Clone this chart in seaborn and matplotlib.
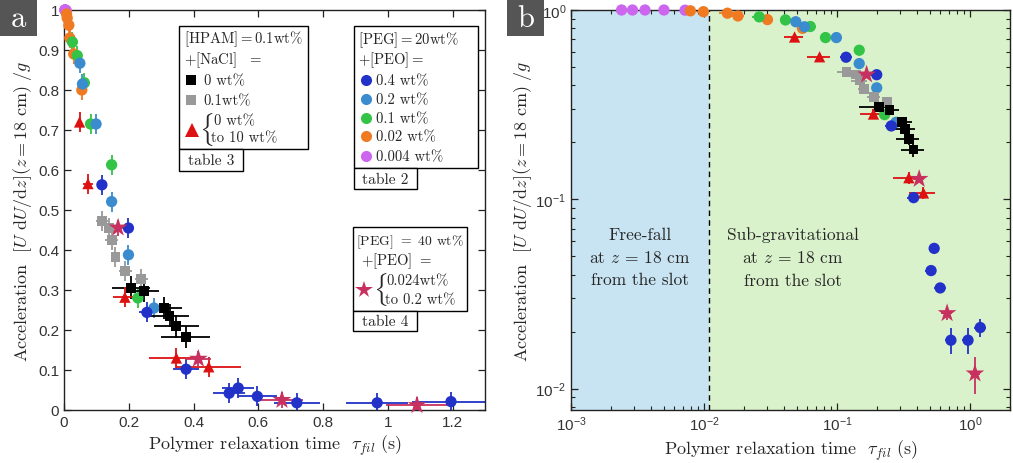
import numpy as np
import pandas as pd
import matplotlib
matplotlib.use("Agg")
import matplotlib.pyplot as plt
import seaborn as sns
from matplotlib.patches import Rectangle
from matplotlib.ticker import FixedLocator, FormatStrFormatter

# ---------------- data ----------------
series_names = ["p0004", "p002", "p01", "p02", "hp01", "hp0", "hpnacl", "p04", "peg40"]

purple_x = [0.0024, 0.0029, 0.0036, 0.0050, 0.0072]
purple_y = [1.0, 1.0, 1.0, 1.0, 0.998]
purple_xe = [0.0002, 0.0002, 0.0003, 0.0004, 0.0005]

orange_x = [0.0079, 0.0099, 0.015, 0.018, 0.030, 0.055]
orange_y = [0.99, 0.98, 0.962, 0.93, 0.89, 0.80]
orange_xe = [0.001, 0.001, 0.002, 0.002, 0.003, 0.005]

green_x = [0.026, 0.041, 0.063, 0.082, 0.147, 0.228]
green_y = [0.92, 0.886, 0.818, 0.715, 0.613, 0.28]
green_xe = [0.003, 0.004, 0.006, 0.008, 0.012, 0.02]

lblue_x = [0.049, 0.057, 0.099, 0.147, 0.199, 0.278]
lblue_y = [0.867, 0.815, 0.715, 0.521, 0.388, 0.255]
lblue_xe = [0.004, 0.005, 0.008, 0.012, 0.015, 0.025]

dblue_x = [0.117, 0.199, 0.256, 0.377, 0.51, 0.538, 0.597, 0.719, 0.967, 1.195]
dblue_y = [0.563, 0.455, 0.244, 0.102, 0.042, 0.055, 0.034, 0.018, 0.018, 0.021]
dblue_xe = [0.012, 0.015, 0.025, 0.04, 0.05, 0.05, 0.06, 0.072, 0.095, 0.12]

black_x = [0.207, 0.248, 0.309, 0.326, 0.347, 0.376]
black_y = [0.306, 0.297, 0.255, 0.236, 0.209, 0.183]
black_xe = [0.06, 0.045, 0.055, 0.06, 0.07, 0.075]

gray_x = [0.118, 0.139, 0.148, 0.159, 0.189, 0.238]
gray_y = [0.472, 0.456, 0.424, 0.383, 0.348, 0.327]
gray_xe = [0.018, 0.015, 0.02, 0.015, 0.02, 0.02]

red_x = [0.048, 0.074, 0.188, 0.347, 0.447]
red_y = [0.72, 0.566, 0.282, 0.130, 0.108]
red_xe = [0.008, 0.015, 0.038, 0.085, 0.10]

star_x = [0.167, 0.415, 0.673, 1.09]
star_y = [0.456, 0.128, 0.025, 0.012]
star_xe = [0.02, 0.04, 0.064, 0.095]

# vertical error bars (panel a, linear) and (panel b, log)
yerr_a = {"p0004": 0.008, "p002": 0.025, "p01": 0.025, "p02": 0.025, "hp01": 0.025,
          "hp0": 0.028, "hpnacl": 0.025, "p04": 0.025, "peg40": 0.02}
purple_yeb = [0.005, 0.005, 0.005, 0.005, 0.005]
orange_yeb = [0.01, 0.01, 0.01, 0.01, 0.01, 0.01]
green_yeb = [0.01, 0.01, 0.01, 0.01, 0.01, 0.01]
lblue_yeb = [0.01, 0.01, 0.01, 0.01, 0.01, 0.01]
dblue_yeb = [0.01, 0.01, 0.01, 0.003, 0.002, 0.002, 0.002, 0.0028, 0.0028, 0.0022]
black_yeb = [0.015, 0.015, 0.015, 0.015, 0.015, 0.015]
gray_yeb = [0.01, 0.01, 0.01, 0.01, 0.01, 0.01]
red_yeb = [0.02, 0.02, 0.017, 0.009, 0.0075]
star_yeb = [0.01, 0.004, 0.002, 0.0026]

colors = {"p0004": "#cc66ee", "p002": "#f07a22", "p01": "#33c447", "p02": "#3a8ccf",
          "p04": "#2232c8", "hp0": "#000000", "hp01": "#999999", "hpnacl": "#dd1111",
          "peg40": "#c8305f"}
markers = {"p0004": "o", "p002": "o", "p01": "o", "p02": "o", "p04": "o",
           "hp0": "s", "hp01": "s", "hpnacl": "^", "peg40": "*"}
sizes = {"p0004": 66, "p002": 66, "p01": 66, "p02": 66, "p04": 66,
         "hp0": 50, "hp01": 50, "hpnacl": 66, "peg40": 200}

raw = {
    "p0004": (purple_x, purple_y, purple_xe, purple_yeb),
    "p002": (orange_x, orange_y, orange_xe, orange_yeb),
    "p01": (green_x, green_y, green_xe, green_yeb),
    "p02": (lblue_x, lblue_y, lblue_xe, lblue_yeb),
    "hp01": (gray_x, gray_y, gray_xe, gray_yeb),
    "hp0": (black_x, black_y, black_xe, black_yeb),
    "hpnacl": (red_x, red_y, red_xe, red_yeb),
    "p04": (dblue_x, dblue_y, dblue_xe, dblue_yeb),
    "peg40": (star_x, star_y, star_xe, star_yeb),
}
frames = []
for name in series_names:
    x, y, xe, yeb = raw[name]
    frames.append(pd.DataFrame({"series": name, "tau": x, "acc": y, "xerr": xe,
                                "yerr_a": yerr_a[name], "yerr_b": yeb}))
df = pd.concat(frames, ignore_index=True)

# ---------------- style ----------------
sns.set_theme(style="ticks")
plt.rcParams["font.family"] = ["Liberation Sans", "DejaVu Sans"]
plt.rcParams["mathtext.fontset"] = "cm"
plt.rcParams["axes.unicode_minus"] = False
SERIF = "cmr10"
TICKC = "#333333"

fig = plt.figure(figsize=(10.13, 4.64), dpi=100)
axa = fig.add_axes([64 / 1013, 53 / 464, 421 / 1013, 400 / 464])
axb = fig.add_axes([571 / 1013, 53 / 464, 439 / 1013, 400 / 464])


def draw_points(ax, ycol):
    for name in series_names:
        d = df[df.series == name]
        ax.errorbar(d.tau, d.acc, xerr=d.xerr, yerr=d[ycol], fmt="none",
                    ecolor=colors[name], elinewidth=1.3, capsize=0, zorder=2,
                    clip_on=True)
    sns.scatterplot(data=df, x="tau", y="acc", hue="series", style="series",
                    size="series", palette=colors, markers=markers, sizes=sizes,
                    hue_order=series_names, style_order=series_names,
                    size_order=series_names, linewidth=0, legend=False, ax=ax,
                    zorder=3, clip_on=False)


# ---------------- panel a ----------------
draw_points(axa, "yerr_a")
axa.set_xlim(0, 1.3)
axa.set_ylim(0, 1.0)
axa.xaxis.set_major_locator(FixedLocator([0, 0.2, 0.4, 0.6, 0.8, 1.0, 1.2]))
axa.yaxis.set_major_locator(FixedLocator(np.arange(0, 1.01, 0.1)))
axa.xaxis.set_major_formatter(FormatStrFormatter("%g"))
axa.yaxis.set_major_formatter(FormatStrFormatter("%g"))

# ---------------- panel b ----------------
TAU_C = 0.011
axb.axvspan(1e-3, TAU_C, color="#c8e4f2", zorder=0, lw=0)
axb.axvspan(TAU_C, 2, color="#d9f2cb", zorder=0, lw=0)
axb.axvline(TAU_C, color="black", ls=(0, (4, 3)), lw=1.0, zorder=1)
draw_points(axb, "yerr_b")
axb.set_xscale("log")
axb.set_yscale("log")
axb.set_xlim(1e-3, 2)
axb.set_ylim(0.0077, 1.0)

for ax, lp in ((axa, 3), (axb, 1)):
    ax.tick_params(which="both", direction="in", top=True, right=True,
                   colors="#222222", labelcolor=TICKC, labelsize=11)
    ax.tick_params(which="major", length=5, width=0.9)
    ax.tick_params(which="minor", length=3, width=0.8)
    for sp in ax.spines.values():
        sp.set_linewidth(1.0)
        sp.set_color("#222222")
    ax.set_xlabel(r"Polymer relaxation time  $\tau_{fil}\ (\mathrm{s})$",
                  fontfamily=SERIF, fontsize=13, labelpad=3)
    ax.set_ylabel(r"Acceleration  $[U\ \mathrm{d}U/\mathrm{d}z](z=18\ \mathrm{cm})\ /g$",
                  fontfamily=SERIF, fontsize=13, labelpad=lp)

# region texts in panel b
axb.text(0.157, 0.3825, "Free-fall\nat $z$ = 18 cm\nfrom the slot", transform=axb.transAxes,
         ha="center", va="center", fontfamily=SERIF, fontsize=12.5, linespacing=1.55,
         zorder=4)
axb.text(0.506, 0.3825, "Sub-gravitational\nat $z$ = 18 cm\nfrom the slot",
         transform=axb.transAxes, ha="center", va="center", fontfamily=SERIF,
         fontsize=12.5, linespacing=1.55, zorder=4)


# ---------------- legend boxes in panel a ----------------
def box(ax, x0, y0, x1, y1):
    ax.add_patch(Rectangle((x0, y0), x1 - x0, y1 - y0, transform=ax.transAxes,
                           facecolor="white", edgecolor="black", lw=1.0,
                           zorder=5, clip_on=False))


def txt(ax, x, y, s, fs=11, ha="left"):
    ax.text(x, y, s, transform=ax.transAxes, ha=ha, va="center",
            fontfamily=SERIF, fontsize=fs, zorder=6)


def brace(ax, x, y):
    ax.text(x, y, r"$\{$", transform=ax.transAxes, ha="left", va="center",
            fontsize=19, zorder=6)


def mark(ax, x, y, key, ms):
    ax.plot([x], [y], marker=markers[key], color=colors[key], ms=ms, ls="none",
            transform=ax.transAxes, clip_on=False, zorder=6, mew=0)


LFS = 10.6
# box 1: HPAM
box(axa, 0.273, 0.6525, 0.580, 0.960)
box(axa, 0.273, 0.5975, 0.425, 0.6525)
txt(axa, 0.286, 0.930, "[HPAM]$=$0.1wt%", LFS)
txt(axa, 0.286, 0.876, "$+$[NaCl]  $=$", LFS)
mark(axa, 0.302, 0.825, "hp0", 7.5)
txt(axa, 0.332, 0.825, "0 wt%", LFS)
mark(axa, 0.302, 0.775, "hp01", 7.5)
txt(axa, 0.332, 0.775, "0.1wt%", LFS)
mark(axa, 0.304, 0.700, "hpnacl", 10)
brace(axa, 0.320, 0.703)
txt(axa, 0.356, 0.723, "0 wt%", LFS)
txt(axa, 0.350, 0.682, "to 10 wt%", LFS)
txt(axa, 0.349, 0.625, "table 3", LFS + 0.5, ha="center")

# box 2: PEG 20
box(axa, 0.689, 0.604, 0.983, 0.960)
box(axa, 0.689, 0.5525, 0.838, 0.604)
txt(axa, 0.698, 0.926, "[PEG]$=$20wt%", LFS)
txt(axa, 0.698, 0.8775, "$+$[PEO]$=$", LFS)
rows2 = [("p04", "0.4 wt%", 0.825), ("p02", "0.2 wt%", 0.7775), ("p01", "0.1 wt%", 0.730),
         ("p002", "0.02 wt%", 0.684), ("p0004", "0.004 wt%", 0.634)]
for key, lab, yy in rows2:
    mark(axa, 0.717, yy, key, 8)
    txt(axa, 0.742, yy, lab, LFS)
txt(axa, 0.7625, 0.578, "table 2", LFS + 0.5, ha="center")

# box 3: PEG 40
box(axa, 0.687, 0.2483, 0.9565, 0.4568)
box(axa, 0.687, 0.1983, 0.838, 0.2483)
txt(axa, 0.6936, 0.4208, "[PEG] $=$ 40 wt%", 9.9)
txt(axa, 0.7047, 0.3733, "$+$[PEO] $=$", LFS)
mark(axa, 0.7126, 0.3008, "peg40", 13)
brace(axa, 0.733, 0.303)
txt(axa, 0.766, 0.3233, "0.024wt%", LFS)
txt(axa, 0.762, 0.2775, "to 0.2 wt%", LFS)
txt(axa, 0.7625, 0.2233, "table 4", LFS + 0.5, ha="center")

# ---------------- panel tags ----------------
for (x0, lab) in [(0, "a"), (507, "b")]:
    fig.patches.append(Rectangle((x0 / 1013, 1 - 37 / 464), 37 / 1013, 37 / 464,
                                 transform=fig.transFigure, facecolor="#555555",
                                 edgecolor="none", zorder=10))
    fig.text((x0 + 18.5) / 1013, 1 - 19 / 464, lab, ha="center", va="center",
             color="white", fontfamily=SERIF, fontsize=22, zorder=11)

fig.savefig("out.png", dpi=100)
